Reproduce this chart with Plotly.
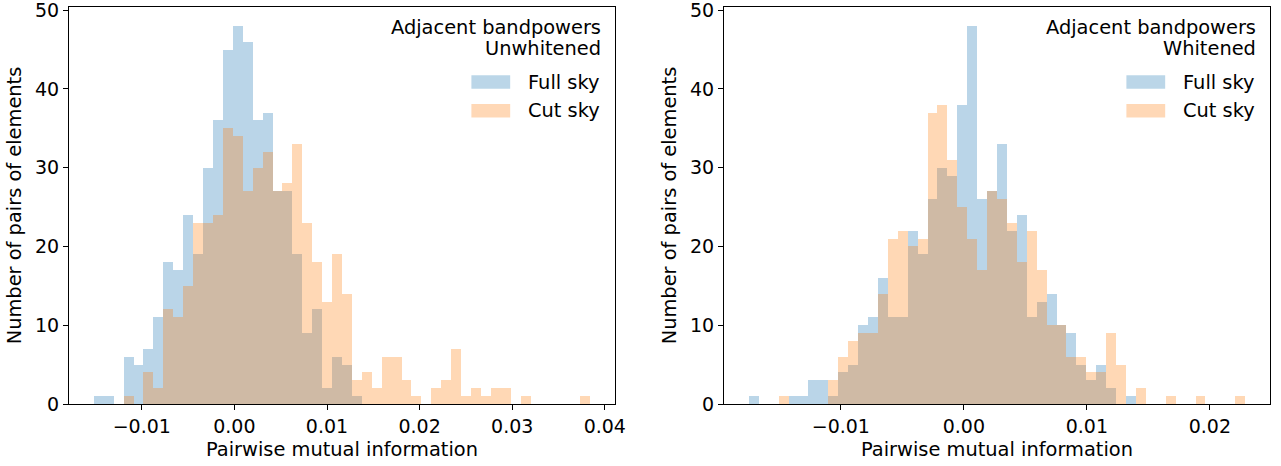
import numpy as np
import plotly.graph_objects as go
from plotly.subplots import make_subplots

# ---------------- data ----------------
# Left panel: Adjacent bandpowers, unwhitened (50 shared bins)
unwhitened_bin_start = -0.01518
unwhitened_bin_width = 0.001072
unwhitened_full_sky = [1, 1, 0, 6, 5, 7, 11, 18, 17, 24,
                       19, 30, 36, 45, 48, 46, 36, 37, 27, 27,
                       19, 9, 12, 2, 6, 5, 1, 0, 0, 0,
                       0, 0, 0, 0, 0, 0, 0, 0, 0, 0,
                       0, 0, 0, 0, 0, 0, 0, 0, 0, 0]
unwhitened_cut_sky = [0, 0, 0, 1, 0, 4, 2, 12, 11, 15,
                      23, 23, 24, 35, 34, 27, 30, 32, 27, 28,
                      33, 23, 18, 13, 19, 14, 3, 4, 2, 6,
                      6, 3, 1, 0, 2, 3, 7, 1, 2, 1,
                      2, 2, 0, 1, 0, 0, 0, 0, 0, 1]

# Right panel: Adjacent bandpowers, whitened (50 shared bins)
whitened_bin_start = -0.01748
whitened_bin_width = 0.000807
whitened_full_sky = [1, 0, 0, 0, 1, 1, 3, 3, 1, 4,
                     5, 10, 11, 16, 11, 11, 22, 19, 26, 30,
                     29, 38, 48, 26, 27, 33, 22, 24, 11, 13,
                     14, 10, 9, 5, 3, 5, 2, 0, 1, 0,
                     0, 0, 0, 0, 0, 0, 0, 0, 0, 0]
whitened_cut_sky = [0, 0, 0, 1, 0, 0, 0, 0, 3, 6,
                    8, 9, 9, 14, 21, 22, 20, 21, 37, 38,
                    31, 25, 21, 17, 27, 26, 23, 18, 22, 17,
                    10, 10, 6, 6, 4, 4, 9, 5, 0, 2,
                    0, 0, 1, 0, 0, 1, 0, 0, 0, 1]

left_xticks = [-0.01, 0.0, 0.01, 0.02, 0.03, 0.04]
left_xticklabels = ["\u22120.01", "0.00", "0.01", "0.02", "0.03", "0.04"]
right_xticks = [-0.01, 0.0, 0.01, 0.02]
right_xticklabels = ["\u22120.01", "0.00", "0.01", "0.02"]
yticks = [0, 10, 20, 30, 40, 50]

panel_titles = [("Adjacent bandpowers", "Unwhitened"), ("Adjacent bandpowers", "Whitened")]
series_names = ["Full sky", "Cut sky"]
series_colors = ["#1f77b4", "#ff7f0e"]

# ---------------- figure ----------------
W, H = 1281, 466
ML, MR, MT, MB = 69, 11, 7, 62
FONT = "DejaVu Sans"
TICK_SIZE = 19
LABEL_SIZE = 19.4

fig = make_subplots(rows=1, cols=2, horizontal_spacing=0.0909)

panels = [
    (unwhitened_bin_start, unwhitened_bin_width, unwhitened_full_sky, unwhitened_cut_sky,
     left_xticks, left_xticklabels),
    (whitened_bin_start, whitened_bin_width, whitened_full_sky, whitened_cut_sky,
     right_xticks, right_xticklabels),
]

for col, (start, width, full, cut, xt, xtl) in enumerate(panels, start=1):
    n = len(full)
    centers = start + width * (np.arange(n) + 0.5)
    for name, counts, color in zip(series_names, [full, cut], series_colors):
        fig.add_trace(go.Bar(x=centers, y=counts, width=width, name=name,
                             marker=dict(color=color, line=dict(width=0)),
                             opacity=0.3, showlegend=False),
                      row=1, col=col)
    lo = start
    hi = start + n * width
    pad = 0.05 * (hi - lo)
    fig.update_xaxes(range=[lo - pad, hi + pad], tickvals=xt, ticktext=xtl,
                     row=1, col=col)

fig.update_xaxes(showline=True, linecolor="black", linewidth=1, mirror=True,
                 ticks="outside", ticklen=5, tickwidth=1, tickcolor="black",
                 showgrid=False, zeroline=False, ticklabeloverflow="allow",
                 tickfont=dict(family=FONT, size=TICK_SIZE, color="black"),
                 title=dict(text="Pairwise mutual information",
                            font=dict(family=FONT, size=LABEL_SIZE, color="black"),
                            standoff=6))
fig.update_yaxes(range=[0, 50.4], tickvals=yticks,
                 showline=True, linecolor="black", linewidth=1, mirror=True,
                 ticks="outside", ticklen=5, tickwidth=1, tickcolor="black",
                 showgrid=False, zeroline=False, ticklabeloverflow="allow",
                 tickfont=dict(family=FONT, size=TICK_SIZE, color="black"),
                 title=dict(text="Number of pairs of elements",
                            font=dict(family=FONT, size=LABEL_SIZE, color="black"),
                            standoff=8))

fig.update_layout(
    width=W, height=H, barmode="overlay", bargap=0,
    margin=dict(l=ML, r=MR, t=MT, b=MB, autoexpand=False),
    plot_bgcolor="white", paper_bgcolor="white",
    font=dict(family=FONT, color="black"),
)
fig.update_xaxes(domain=[0, 546 / 1201], row=1, col=1)
fig.update_xaxes(domain=[655 / 1201, 1], row=1, col=2)

# panel text and manual legends
for i, (line1, line2) in enumerate(panel_titles):
    xr = "x domain" if i == 0 else "x2 domain"
    yr = "y domain" if i == 0 else "y2 domain"
    fig.add_annotation(x=0.978, y=0.9496, xref=xr, yref=yr, text=line1, showarrow=False,
                       xanchor="right", yanchor="middle",
                       font=dict(family=FONT, size=LABEL_SIZE, color="black"))
    fig.add_annotation(x=0.978, y=0.8967, xref=xr, yref=yr, text=line2, showarrow=False,
                       xanchor="right", yanchor="middle",
                       font=dict(family=FONT, size=LABEL_SIZE, color="black"))
    for j, (name, color) in enumerate(zip(series_names, series_colors)):
        ytop = 0.828 - j * 0.0723
        fig.add_shape(type="rect", xref=xr, yref=yr, x0=0.737, x1=0.808,
                      y0=ytop - 0.034, y1=ytop, fillcolor=color, opacity=0.3,
                      line=dict(width=0), layer="above")
        fig.add_annotation(x=0.837, y=ytop - 0.017, xref=xr, yref=yr, text=name,
                           showarrow=False, xanchor="left", yanchor="middle",
                           font=dict(family=FONT, size=LABEL_SIZE, color="black"))

fig.write_html("out.html", config={"displayModeBar": False},
               post_script="document.body.style.margin='0';document.body.style.padding='0';")
